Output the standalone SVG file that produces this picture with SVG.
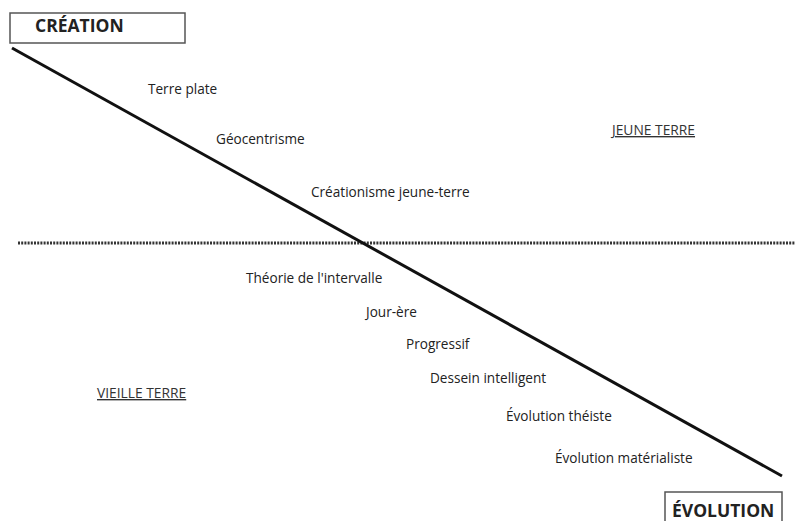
<svg xmlns="http://www.w3.org/2000/svg" width="795" height="521" viewBox="0 0 795 521">
<style>
.lbl{font-family:"Open Sans","Liberation Sans",sans-serif;font-size:13.6px;fill:#222}
.zone{font-family:"Open Sans","Liberation Sans",sans-serif;font-size:13.8px;fill:#333;text-decoration:underline}
.title{font-family:"Open Sans","Liberation Sans",sans-serif;font-size:17.5px;font-weight:bold;fill:#222}
.box{fill:#fff;stroke:#555;stroke-width:1.5}
</style>
<rect width="795" height="521" fill="#fff"/>
<g id="connectors">
<line x1="18" y1="243" x2="795" y2="243" stroke="#333" stroke-width="3" stroke-dasharray="2 1.2"/>
<line x1="12" y1="48" x2="782" y2="476" stroke="#111" stroke-width="3"/>
</g>
<g id="creation"><rect class="box" x="10" y="13" width="175" height="30"/><text class="title" x="35" y="32">CRÉATION</text></g>
<g id="evolution"><rect class="box" x="665" y="492" width="117" height="32"/><text class="title" x="672" y="517">ÉVOLUTION</text></g>
<g id="jeune-terre"><text class="zone" x="612" y="135">JEUNE TERRE</text></g>
<g id="vieille-terre"><text class="zone" x="97" y="398">VIEILLE TERRE</text></g>
<g id="terre-plate"><text class="lbl" x="148" y="94">Terre plate</text></g>
<g id="geocentrisme"><text class="lbl" x="216" y="144">Géocentrisme</text></g>
<g id="creationisme"><text class="lbl" x="311" y="197">Créationisme jeune-terre</text></g>
<g id="intervalle"><text class="lbl" x="246" y="283">Théorie de l'intervalle</text></g>
<g id="jour-ere"><text class="lbl" x="366" y="317">Jour-ère</text></g>
<g id="progressif"><text class="lbl" x="406" y="349">Progressif</text></g>
<g id="dessein"><text class="lbl" x="430" y="383">Dessein intelligent</text></g>
<g id="theiste"><text class="lbl" x="506" y="421">Évolution théiste</text></g>
<g id="materialiste"><text class="lbl" x="555" y="463">Évolution matérialiste</text></g>
</svg>
